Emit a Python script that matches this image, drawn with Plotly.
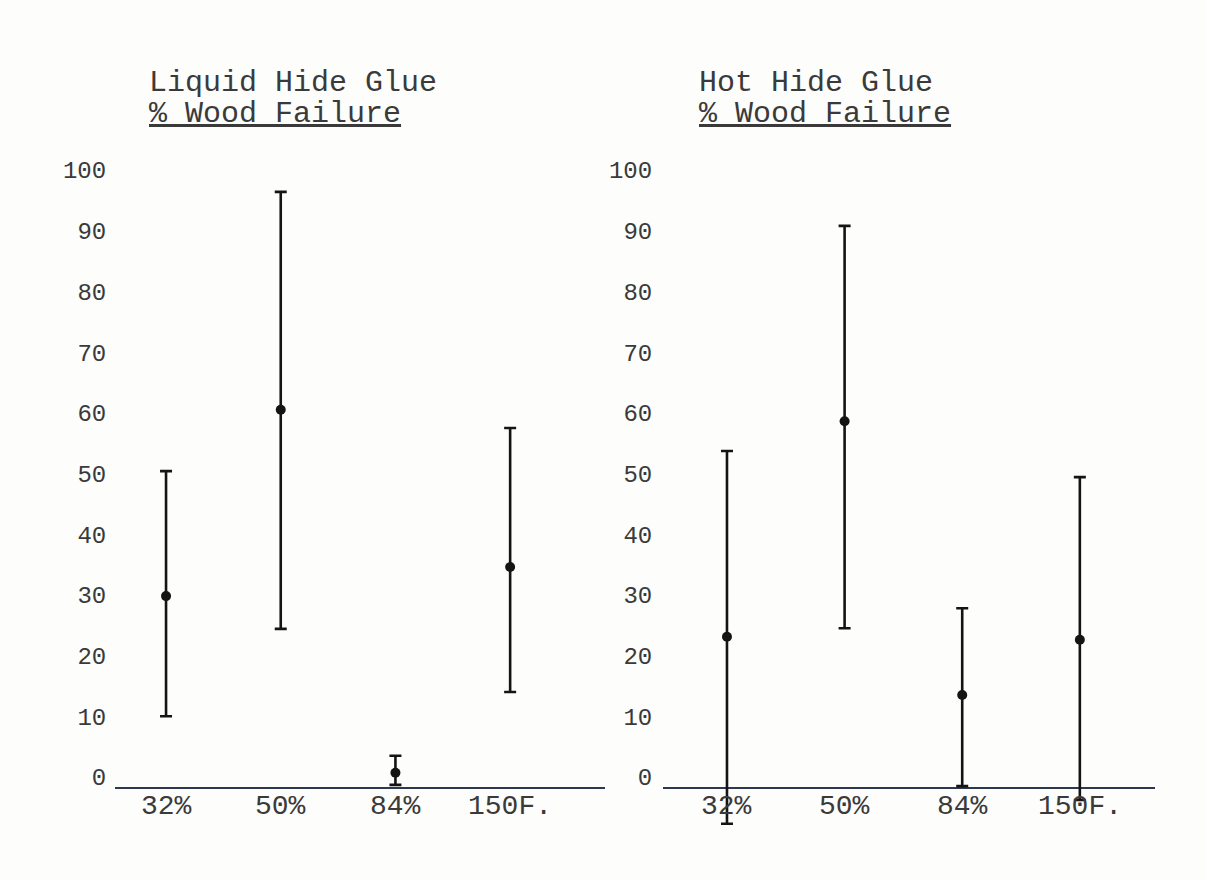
import plotly.graph_objects as go
from plotly.subplots import make_subplots

categories = ["32%", "50%", "84%", "150F."]

# Liquid Hide Glue: mean, upper, lower (% wood failure)
liquid_mean = [29.8, 60.5, 0.7, 34.6]
liquid_high = [50.4, 96.4, 3.5, 57.5]
liquid_low = [10.0, 24.4, -1.3, 14.0]

# Hot Hide Glue
hot_mean = [23.1, 58.6, 13.5, 22.6]
hot_high = [53.7, 90.8, 27.8, 49.4]
hot_low = [-7.7, 24.5, -1.5, -3.8]

y_ticks = list(range(0, 101, 10))
panel_titles = ["Liquid Hide Glue", "Hot Hide Glue"]
subtitle = "% Wood Failure"

FONT = "Liberation Mono, Courier New, monospace"
INK = "#141414"
TEXT = "#3a3a3a"
BG = "#fdfdfb"
BASE = -1.8  # baseline drawn slightly below zero, as in the typed original

fig = make_subplots(rows=1, cols=2)

panels = [
    (liquid_mean, liquid_high, liquid_low),
    (hot_mean, hot_high, hot_low),
]
for i, (m, hi, lo) in enumerate(panels, start=1):
    fig.add_trace(
        go.Scatter(
            x=categories,
            y=m,
            mode="markers",
            marker=dict(color=INK, size=10),
            error_y=dict(
                type="data",
                symmetric=False,
                array=[h - v for h, v in zip(hi, m)],
                arrayminus=[v - l for v, l in zip(m, lo)],
                color=INK,
                thickness=2.6,
                width=6,
            ),
            showlegend=False,
            hoverinfo="skip",
        ),
        row=1,
        col=i,
    )

x_domains = [[115 / 1206, 605 / 1206], [663 / 1206, 1155 / 1206]]
x_ranges = [[-0.445, 3.827], [-0.544, 3.639]]
y_range = [-8.9, 103.3]

for i in range(2):
    xa = "xaxis" if i == 0 else "xaxis2"
    ya = "yaxis" if i == 0 else "yaxis2"
    fig.layout[xa].update(
        domain=x_domains[i],
        range=x_ranges[i],
        type="category",
        showgrid=False,
        zeroline=False,
        showline=False,
        showticklabels=False,
        ticks="",
        fixedrange=True,
    )
    fig.layout[ya].update(
        range=y_range,
        tickvals=y_ticks,
        ticktext=[str(t) for t in y_ticks],
        showgrid=False,
        zeroline=False,
        showline=False,
        ticks="outside",
        ticklen=[3, 5][i],
        tickcolor="rgba(0,0,0,0)",
        tickfont=dict(family=FONT, size=24, color=TEXT),
        automargin=False,
        fixedrange=True,
    )
    xref = "x" if i == 0 else "x2"
    yref = "y" if i == 0 else "y2"
    # baseline
    fig.add_shape(
        type="line",
        xref=xref + " domain",
        yref=yref,
        x0=0,
        x1=1,
        y0=BASE,
        y1=BASE,
        line=dict(color="#2e3850", width=2),
        layer="below",
    )
    # category labels beneath the baseline
    for c in categories:
        fig.add_annotation(
            x=c,
            y=BASE,
            xref=xref,
            yref=yref,
            text=c,
            showarrow=False,
            yanchor="top",
            yshift=-1,
            font=dict(family=FONT, size=28, color=TEXT),
        )
    # titles
    tx = [147 / 1206, 697 / 1206][i]
    fig.add_annotation(
        x=tx, y=(831 - 83) / 681, xref="paper", yref="paper",
        text=panel_titles[i], showarrow=False, xanchor="left", yanchor="middle",
        font=dict(family=FONT, size=30, color=TEXT),
    )
    fig.add_annotation(
        x=tx, y=(831 - 114) / 681, xref="paper", yref="paper",
        text="<u>" + subtitle + "</u>", showarrow=False, xanchor="left", yanchor="middle",
        font=dict(family=FONT, size=30, color=TEXT),
    )

fig.update_layout(
    width=1206,
    height=880,
    margin=dict(l=0, r=0, t=150, b=49),
    paper_bgcolor=BG,
    plot_bgcolor=BG,
    showlegend=False,
)

fig.write_html(
    "out.html",
    config={"displayModeBar": False, "staticPlot": True},
    post_script="document.body.style.margin='0';document.body.style.background='" + BG + "';",
)
